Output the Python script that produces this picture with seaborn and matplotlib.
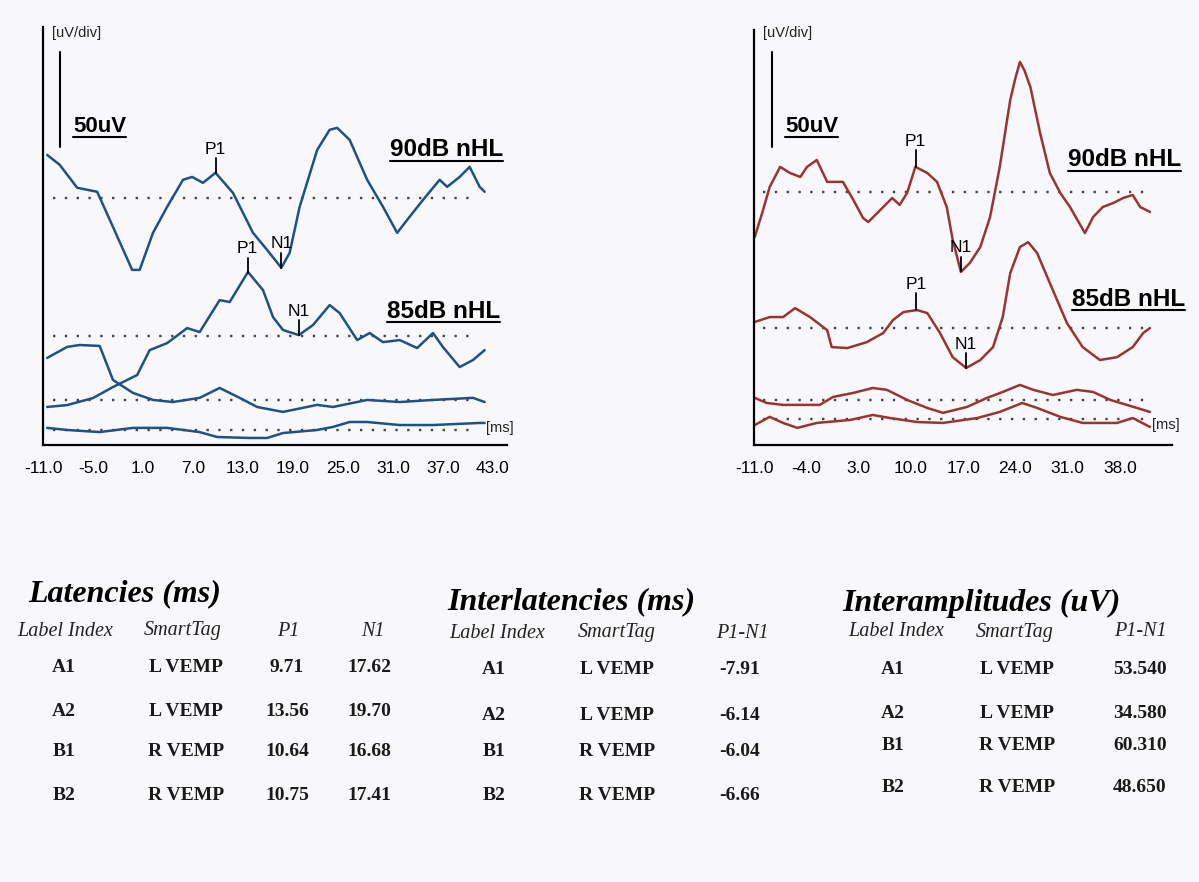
import numpy as np
import pandas as pd
import matplotlib
matplotlib.use("Agg")
import matplotlib.pyplot as plt
from matplotlib.lines import Line2D
import seaborn as sns

# ---------------- data ----------------
left_ticks = [-11.0, -5.0, 1.0, 7.0, 13.0, 19.0, 25.0, 31.0, 37.0, 43.0]
right_ticks = [-11.0, -4.0, 3.0, 10.0, 17.0, 24.0, 31.0, 38.0]

# Left ear (blue) traces: latency (ms) and amplitude (uV) relative to own baseline
L90_ms = [-10.5, -9.0, -6.9, -4.5, -2.6, -0.3, 0.6, 2.2, 3.9, 5.8, 6.9, 8.2, 9.7, 11.8, 14.2, 15.9, 17.6,
          18.6, 19.8, 21.9, 23.4, 24.3, 25.8, 27.9, 29.8, 31.5, 32.7, 34.6, 36.6, 37.5, 39.0, 40.2, 41.4, 42.0]
L90_uv = [22.6, 17.4, 5.3, 3.2, -15.3, -37.9, -37.9, -18.4, -4.7, 9.5, 11.0, 7.9, 13.2, 2.6, -18.4, -27.4,
          -36.8, -28.9, -4.7, 25.2, 35.8, 36.8, 30.5, 9.5, -4.7, -18.4, -11.6, -1.1, 9.5, 5.8, 11.0, 16.3, 5.8, 3.2]

L85_ms = [-10.5, -8.1, -5.0, -2.6, 0.3, 1.8, 3.9, 6.3, 7.8, 10.2, 11.4, 13.6, 15.4, 16.6, 17.8, 19.7, 21.4,
          23.4, 24.6, 26.7, 28.2, 29.8, 31.8, 33.9, 35.8, 37.0, 39.0, 40.6, 42.0]
L85_uv = [-37.3, -36.3, -32.6, -26.8, -20.5, -7.4, -3.7, 4.2, 2.1, 18.9, 17.9, 33.7, 24.2, 10.0, 3.2, 0.5,
          5.8, 16.3, 12.1, -2.1, 1.6, -3.2, -2.1, -6.3, 1.6, -5.8, -16.3, -12.6, -7.4]

L3_ms = [-10.5, -8.1, -6.6, -4.2, -2.6, -0.2, 2.2, 4.6, 7.8, 10.2, 12.6, 14.7, 17.8, 21.9, 23.8, 27.9,
         31.8, 35.8, 40.6, 42.0]
L3_uv = [22.1, 27.9, 28.9, 28.4, 10.5, 3.7, 0.0, -1.1, 1.1, 6.3, 1.1, -3.7, -6.3, -2.6, -3.7, 0.0,
         -1.1, 0.0, 1.1, -1.1]

L4_ms = [-10.5, -8.1, -4.2, -0.2, 3.9, 7.8, 9.9, 13.8, 15.9, 17.8, 21.9, 23.8, 25.8, 27.9, 31.8, 35.8, 41.4, 42.0]
L4_uv = [1.1, 0.0, -1.1, 1.1, 1.1, -1.1, -3.7, -4.2, -4.2, -1.6, 0.0, 1.6, 4.2, 4.2, 2.6, 2.6, 3.7, 3.7]

# Right ear (red) traces
R90_ms = [-10.9, -9.9, -8.9, -7.5, -6.2, -4.8, -3.9, -2.6, -1.2, -0.4, 0.9, 2.3, 3.6, 4.3, 5.9, 7.5, 8.5,
          9.5, 10.6, 12.2, 13.5, 14.8, 15.6, 16.7, 17.9, 19.3, 20.6, 21.9, 23.3, 24.0, 24.6, 25.2, 26.0,
          27.3, 28.6, 30.0, 31.3, 33.3, 34.4, 35.7, 37.1, 38.4, 39.7, 40.7, 42.0]
R90_uv = [-23.7, -11.0, 2.6, 13.2, 10.0, 7.9, 13.2, 16.8, 5.3, 5.3, 5.3, -4.2, -13.7, -15.8, -9.5, -3.2,
          -6.8, -0.5, 13.2, 10.0, 5.3, -7.9, -25.2, -42.1, -37.3, -28.9, -13.2, 13.2, 48.4, 60.0, 68.4,
          64.0, 55.2, 31.0, 10.0, -0.5, -7.9, -21.6, -13.2, -7.9, -5.8, -3.2, -1.6, -7.9, -10.5]

R85_ms = [-10.9, -8.9, -7.1, -5.5, -3.5, -1.2, -0.6, 1.5, 4.1, 6.3, 7.6, 9.0, 10.8, 12.2, 13.9, 15.6,
          17.4, 19.3, 21.0, 22.3, 23.3, 24.6, 25.7, 26.9, 28.6, 30.9, 33.0, 35.3, 37.6, 39.7, 41.1, 42.0]
R85_uv = [3.2, 5.8, 5.8, 10.5, 5.8, -1.1, -10.0, -10.5, -7.4, -2.6, 4.2, 8.4, 9.5, 7.9, -2.6, -15.3,
          -21.0, -16.8, -10.0, 5.8, 28.9, 42.6, 45.2, 39.5, 23.7, 2.6, -10.0, -16.8, -15.3, -10.0, -2.6, 0.0]

R3_ms = [-10.9, -9.3, -7.1, -2.2, -0.4, 2.3, 4.9, 6.8, 9.5, 12.2, 14.3, 17.5, 20.2, 22.3, 24.6, 26.4,
         29.0, 32.2, 34.4, 36.7, 38.9, 42.0]
R3_uv = [1.1, -1.6, -2.6, -2.6, 1.6, 3.7, 6.3, 5.3, 0.0, -4.2, -6.8, -3.7, 1.1, 4.2, 7.9, 5.3,
         2.6, 5.3, 4.2, 0.0, -2.6, -6.3]

R4_ms = [-10.9, -8.9, -7.1, -5.2, -2.6, 1.9, 4.9, 7.2, 10.8, 14.3, 18.9, 21.9, 24.9, 26.9, 30.0, 33.0,
         37.6, 39.7, 42.0]
R4_uv = [-3.2, 1.1, -2.1, -4.7, -2.1, -0.5, 2.1, 0.5, -1.6, -2.1, 0.5, 3.7, 8.4, 5.8, 1.1, -2.1,
         -2.1, 0.5, -4.2]

# Table data
label_index = ["A1", "A2", "B1", "B2"]
smart_tag = ["L VEMP", "L VEMP", "R VEMP", "R VEMP"]
lat_p1 = ["9.71", "13.56", "10.64", "10.75"]
lat_n1 = ["17.62", "19.70", "16.68", "17.41"]
interlat = ["-7.91", "-6.14", "-6.04", "-6.66"]
interamp = ["53.540", "34.580", "60.310", "48.650"]

scale_bar_uv = 50

# ---------------- figure ----------------
W, H = 1199, 882
sns.set_style("white")
plt.rcParams["font.family"] = ["Liberation Sans", "DejaVu Sans"]

fig = plt.figure(figsize=(W / 100, H / 100), dpi=100)
fig.patch.set_facecolor("#f8f8fa")

BLUE = "#1f5186"
RED = "#9a3434"
DOT = "#444444"


def P(x, y):
    return x / W, 1 - y / H


def make_axes(x0, x1, ytop, yaxis, px_per_ms, ticks):
    ax = fig.add_axes([x0 / W, (H - yaxis) / H, (x1 - x0) / W, (yaxis - ytop) / H])
    ax.set_facecolor("none")
    ax.set_xlim(-11, -11 + (x1 - x0) / px_per_ms)
    ax.set_ylim(0, (yaxis - ytop) * 0.526)
    for s in ["top", "right"]:
        ax.spines[s].set_visible(False)
    for s in ["left", "bottom"]:
        ax.spines[s].set_color("black")
        ax.spines[s].set_linewidth(1.6)
    ax.set_xticks(ticks)
    ax.set_xticklabels([f"{t:.1f}" for t in ticks])
    ax.set_yticks([])
    ax.tick_params(axis="x", direction="inout", length=9, width=1.5, pad=7,
                   labelsize=12.5, colors="black")
    ax.set_xlabel("")
    ax.set_ylabel("")
    return ax


axL = make_axes(43, 507, 27, 445, 8.333, left_ticks)
axR = make_axes(754, 1172, 30, 445, 7.47, right_ticks)

left_traces = [(L90_ms, L90_uv, 130.0), (L85_ms, L85_uv, 57.3), (L3_ms, L3_uv, 23.7), (L4_ms, L4_uv, 7.9)]
right_traces = [(R90_ms, R90_uv, 133.1), (R85_ms, R85_uv, 61.5), (R3_ms, R3_uv, 23.7), (R4_ms, R4_uv, 13.7)]


def draw_traces(ax, traces, color, dot_range):
    for ms, uv, off in traces:
        ax.hlines(off, dot_range[0], dot_range[1], colors=DOT, linestyles=(0, (1, 4)), lw=1.7)
        df = pd.DataFrame({"ms": ms, "uV": np.array(uv) + off})
        sns.lineplot(data=df, x="ms", y="uV", ax=ax, color=color, lw=1.8, sort=False,
                     estimator=None, legend=False)
    ax.set_xlabel("")
    ax.set_ylabel("")


draw_traces(axL, left_traces, BLUE, (-9.8, 41.1))
draw_traces(axR, right_traces, RED, (-9.8, 42.1))


def mark(ax, ms, uv, off, lat, name, h=7.8):
    y = np.interp(lat, ms, uv) + off
    ax.plot([lat, lat], [y, y + h], color="black", lw=1.3)
    ax.text(lat, y + h + 0.8, name, ha="center", va="bottom", fontsize=12.5, color="black")


mark(axL, L90_ms, L90_uv, 130.0, float(lat_p1[0]), "P1")
mark(axL, L90_ms, L90_uv, 130.0, float(lat_n1[0]), "N1")
mark(axL, L85_ms, L85_uv, 57.3, float(lat_p1[1]), "P1")
mark(axL, L85_ms, L85_uv, 57.3, float(lat_n1[1]), "N1")
mark(axR, R90_ms, R90_uv, 133.1, float(lat_p1[2]), "P1", h=8.8)
mark(axR, R90_ms, R90_uv, 133.1, float(lat_n1[2]), "N1")
mark(axR, R85_ms, R85_uv, 61.5, float(lat_p1[3]), "P1", h=8.8)
mark(axR, R85_ms, R85_uv, 61.5, float(lat_n1[3]), "N1")

# scale bars
axL.plot([-8.96, -8.96], [156.7, 156.7 + scale_bar_uv], color="black", lw=1.5)
axR.plot([-8.6, -8.6], [156.7, 156.7 + scale_bar_uv], color="black", lw=1.5)

# panel texts (pixel positions)
underlined = []


def T(x, y, s, **kw):
    kw.setdefault("va", "center")
    return fig.text(*P(x, y), s, **kw)


for x0 in (52, 763):
    T(x0, 33, "[uV/div]", fontsize=10.5, ha="left", color="#222222")
T(486, 428, "[ms]", fontsize=10.5, ha="left", color="#222222")
T(1152, 425, "[ms]", fontsize=10.5, ha="left", color="#222222")

underlined.append(T(73, 127, "50uV", fontsize=16, fontweight="bold", ha="left", color="black"))
underlined.append(T(785, 127, "50uV", fontsize=16, fontweight="bold", ha="left", color="black"))
underlined.append(T(390, 150, "90dB nHL", fontsize=17.5, fontweight="bold", ha="left", color="black"))
underlined.append(T(387, 311, "85dB nHL", fontsize=17.5, fontweight="bold", ha="left", color="black"))
underlined.append(T(1068, 160, "90dB nHL", fontsize=17.5, fontweight="bold", ha="left", color="black"))
underlined.append(T(1072, 300, "85dB nHL", fontsize=17.5, fontweight="bold", ha="left", color="black"))

# ---------------- tables ----------------
SERIF = ["Liberation Serif", "DejaVu Serif"]


def title(x, y, s):
    T(x, y, s, fontsize=23, fontweight="bold", fontstyle="italic", family=SERIF, ha="left", color="black")


def header(x, y, s):
    T(x, y, s, fontsize=14.5, fontstyle="italic", family=SERIF, ha="center", color="#222222")


def cell(x, y, s):
    T(x, y, s, fontsize=14, fontweight="bold", family=SERIF, ha="center", color="#1a1a1a")


# Latencies
title(28, 594, "Latencies (ms)")
for x, s in zip([65, 183, 288, 373], ["Label Index", "SmartTag", "P1", "N1"]):
    header(x, 631, s)
for y, a, b, c, d in zip([668, 712, 752, 795], label_index, smart_tag, lat_p1, lat_n1):
    cell(64, y, a); cell(186, y, b); cell(287, y, c); cell(369, y, d)

# Interlatencies
title(447, 602, "Interlatencies (ms)")
for x, s in zip([497, 617, 742], ["Label Index", "SmartTag", "P1-N1"]):
    header(x, 633, s)
for y, a, b, c in zip([670, 715, 752, 795], label_index, smart_tag, interlat):
    cell(494, y, a); cell(617, y, b); cell(740, y, c)

# Interamplitudes
title(842, 603, "Interamplitudes (uV)")
for x, s in zip([896, 1015, 1140], ["Label Index", "SmartTag", "P1-N1"]):
    header(x, 632, s)
for y, a, b, c in zip([670, 713, 745, 788], label_index, smart_tag, interamp):
    cell(893, y, a); cell(1017, y, b); cell(1140, y, c)

# underline the panel labels
fig.canvas.draw()
renderer = fig.canvas.get_renderer()
for t in underlined:
    bb = t.get_window_extent(renderer)
    yline = (bb.y0 + 1) / H
    fig.add_artist(Line2D([bb.x0 / W, bb.x1 / W], [yline, yline], color="black", lw=1.5))

fig.savefig("out.png", dpi=100, facecolor=fig.get_facecolor())
